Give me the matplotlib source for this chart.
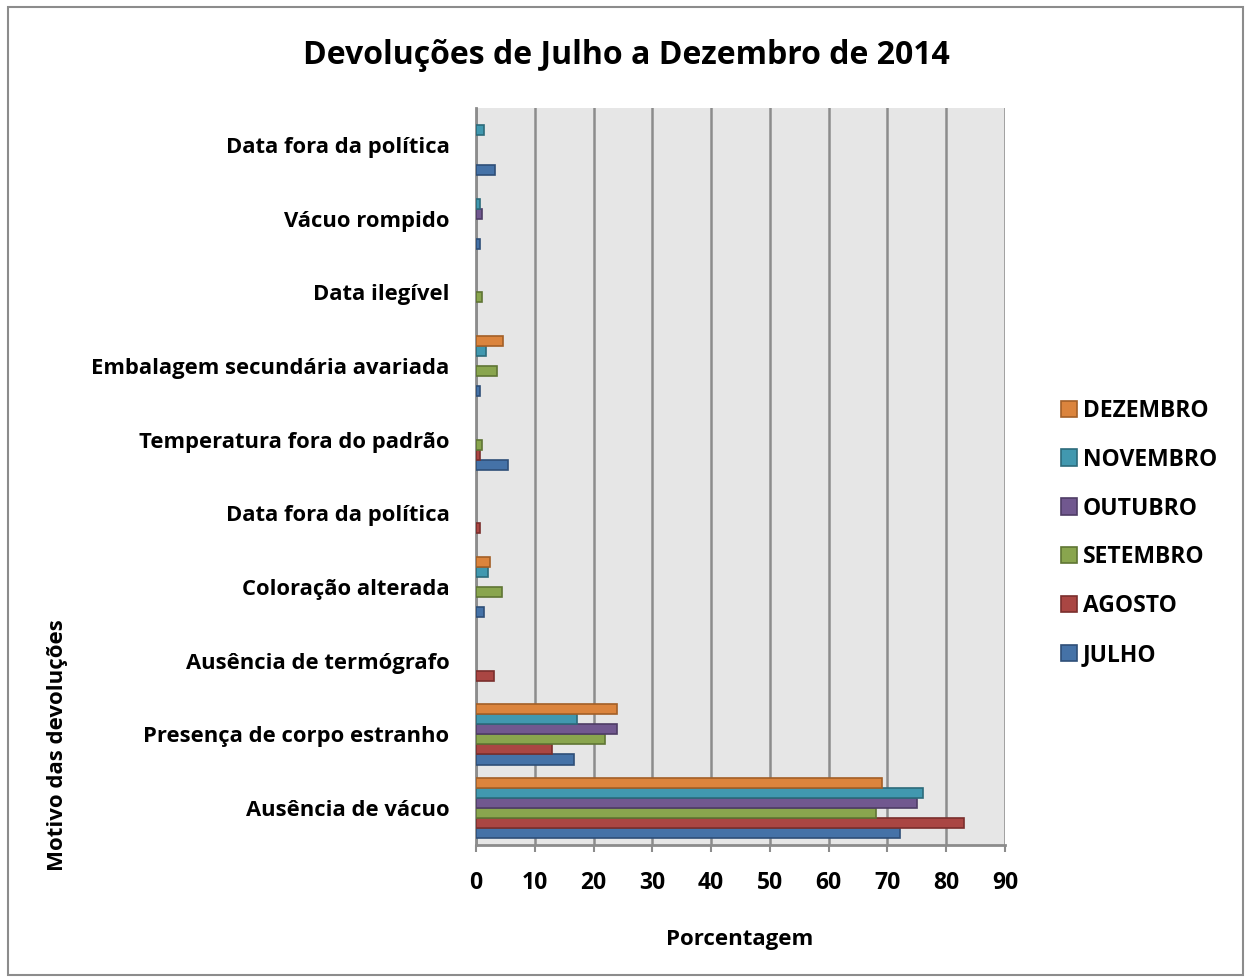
import matplotlib
matplotlib.use("Agg")
import matplotlib.pyplot as plt
import numpy as np
from matplotlib.patches import Rectangle

plt.rcParams['font.family'] = ['Open Sans', 'DejaVu Sans']
plt.rcParams['font.weight'] = 'bold'

categories = [
    "Ausência de vácuo",
    "Presença de corpo estranho",
    "Ausência de termógrafo",
    "Coloração alterada",
    "Data fora da política",
    "Temperatura fora do padrão",
    "Embalagem secundária avariada",
    "Data ilegível",
    "Vácuo rompido",
    "Data fora da política",
]
months = ["JULHO", "AGOSTO", "SETEMBRO", "OUTUBRO", "NOVEMBRO", "DEZEMBRO"]
julho    = [72.1, 16.7, 0.0, 1.3, 0.0, 5.4, 0.7, 0.0, 0.7, 3.3]
agosto   = [83.0, 13.0, 3.0, 0.0, 0.7, 0.7, 0.0, 0.0, 0.0, 0.0]
setembro = [68.0, 22.0, 0.0, 4.5, 0.0, 1.1, 3.5, 1.1, 0.0, 0.0]
outubro  = [75.1, 24.0, 0.0, 0.0, 0.0, 0.0, 0.0, 0.0, 1.1, 0.0]
novembro = [76.1, 17.1, 0.0, 2.0, 0.0, 0.0, 1.7, 0.0, 0.7, 1.3]
dezembro = [69.1, 24.0, 0.0, 2.3, 0.0, 0.0, 4.6, 0.0, 0.0, 0.0]
series = [julho, agosto, setembro, outubro, novembro, dezembro]
colors = ["#4572A7", "#AA4643", "#89A54E", "#71588F", "#4198AF", "#DB843D"]
edges = ["#2f4f78", "#7a2f2d", "#5f7534", "#4f3d66", "#2c6b7b", "#a35f27"]
xticks = [0, 10, 20, 30, 40, 50, 60, 70, 80, 90]

W, H = 1250, 980
fig = plt.figure(figsize=(W/100, H/100), dpi=100)
fig.patches.append(Rectangle((8/W, 5/H), 1235/W, 968/H, transform=fig.transFigure,
                             fill=False, edgecolor="#8c8c8c", linewidth=1.5))

ax = fig.add_axes([476/W, 1-845/H, (1005-476)/W, (845-108)/H])
ax.set_facecolor("#e6e6e6")

n = len(categories)
y = np.arange(n)
bh = 0.136
for i, (vals, c, e, m) in enumerate(zip(series, colors, edges, months)):
    off = (i - 2.5) * bh
    v = np.array(vals, dtype=float)
    lw = np.where(v > 0, 1.2, 0.0)
    ax.barh(y + off, v, height=bh, color=c, edgecolor=e, linewidth=lw, label=m, zorder=3)

ax.set_xlim(0, 90)
ax.set_ylim(-0.5, n - 0.5)
ax.set_xticks(xticks)
ax.set_xticklabels([str(t) for t in xticks], fontsize=16.5, fontweight='bold')
ax.set_yticks(y)
ax.set_yticklabels(categories, fontsize=15.8, fontweight='bold')
ax.tick_params(axis='y', length=0, pad=19)
ax.tick_params(axis='x', length=5, width=1.5, color="#8c8c8c", pad=14)
ax.grid(axis='x', color="#8c8c8c", linewidth=1.8, zorder=0)
ax.set_axisbelow(True)
for s in ['top', 'right']:
    ax.spines[s].set_visible(False)
for s in ['left', 'bottom']:
    ax.spines[s].set_color("#8c8c8c")
    ax.spines[s].set_linewidth(2)

fig.text(740/W, 1-939/H, "Porcentagem", ha='center', va='center', fontsize=16, fontweight='bold')
fig.text(58/W, 1-745/H, "Motivo das devoluções", rotation=90, ha='center', va='center',
         fontsize=16, fontweight='bold')
fig.text(626/W, 1-55/H, "Devoluções de Julho a Dezembro de 2014", ha='center', va='center',
         fontsize=23, fontweight='bold')

handles, labels = ax.get_legend_handles_labels()
leg = fig.legend(handles[::-1], labels[::-1], loc='center left',
                 bbox_to_anchor=(1061/W, 1-533/H), frameon=False,
                 prop={'size': 16.5, 'weight': 'bold'}, handlelength=0.7, handleheight=0.7,
                 labelspacing=1.09, handletextpad=0.26, borderpad=0, borderaxespad=0)

fig.savefig("out.png", dpi=100)
